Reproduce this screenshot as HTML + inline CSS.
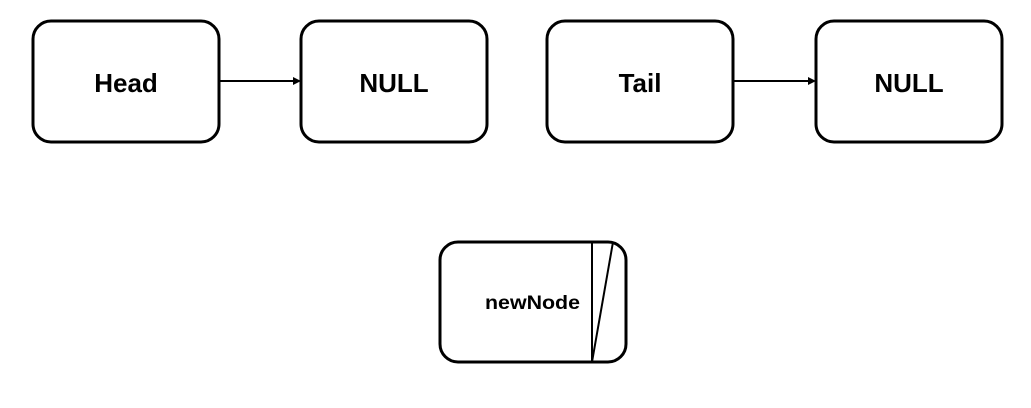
<!DOCTYPE html>
<html><head><meta charset="utf-8"><style>html,body{margin:0;padding:0;background:#fff;width:1031px;height:408px;overflow:hidden}</style></head>
<body>
<svg width="1031" height="408" viewBox="0 0 1031 408" xmlns="http://www.w3.org/2000/svg" font-family="Liberation Sans, sans-serif" font-weight="bold">
<g fill="#fff" stroke="#000" stroke-width="3">
<rect x="33" y="21" width="186" height="121" rx="18"/>
<rect x="301" y="21" width="186" height="121" rx="18"/>
<rect x="547" y="21" width="186" height="121" rx="18"/>
<rect x="816" y="21" width="186" height="121" rx="18"/>
<rect x="440" y="242" width="186" height="120" rx="18"/>
</g>
<g stroke="#000" stroke-width="2">
<line x1="592" y1="242" x2="592" y2="362"/>
<line x1="592" y1="362" x2="613" y2="242"/>
<line x1="219" y1="81" x2="294" y2="81"/>
<line x1="733" y1="81" x2="808" y2="81"/>
</g>
<polygon points="301,81 293,77 293,85" fill="#000"/>
<polygon points="816,81 808,77 808,85" fill="#000"/>
<g font-size="26" text-anchor="middle" fill="#000">
<text x="126" y="92">Head</text>
<text x="394" y="92">NULL</text>
<text x="640" y="92">Tail</text>
<text x="909" y="92">NULL</text>
</g>
<text x="580" y="309" font-size="19" text-anchor="end" textLength="95" lengthAdjust="spacingAndGlyphs">newNode</text>
</svg>
</body></html>
